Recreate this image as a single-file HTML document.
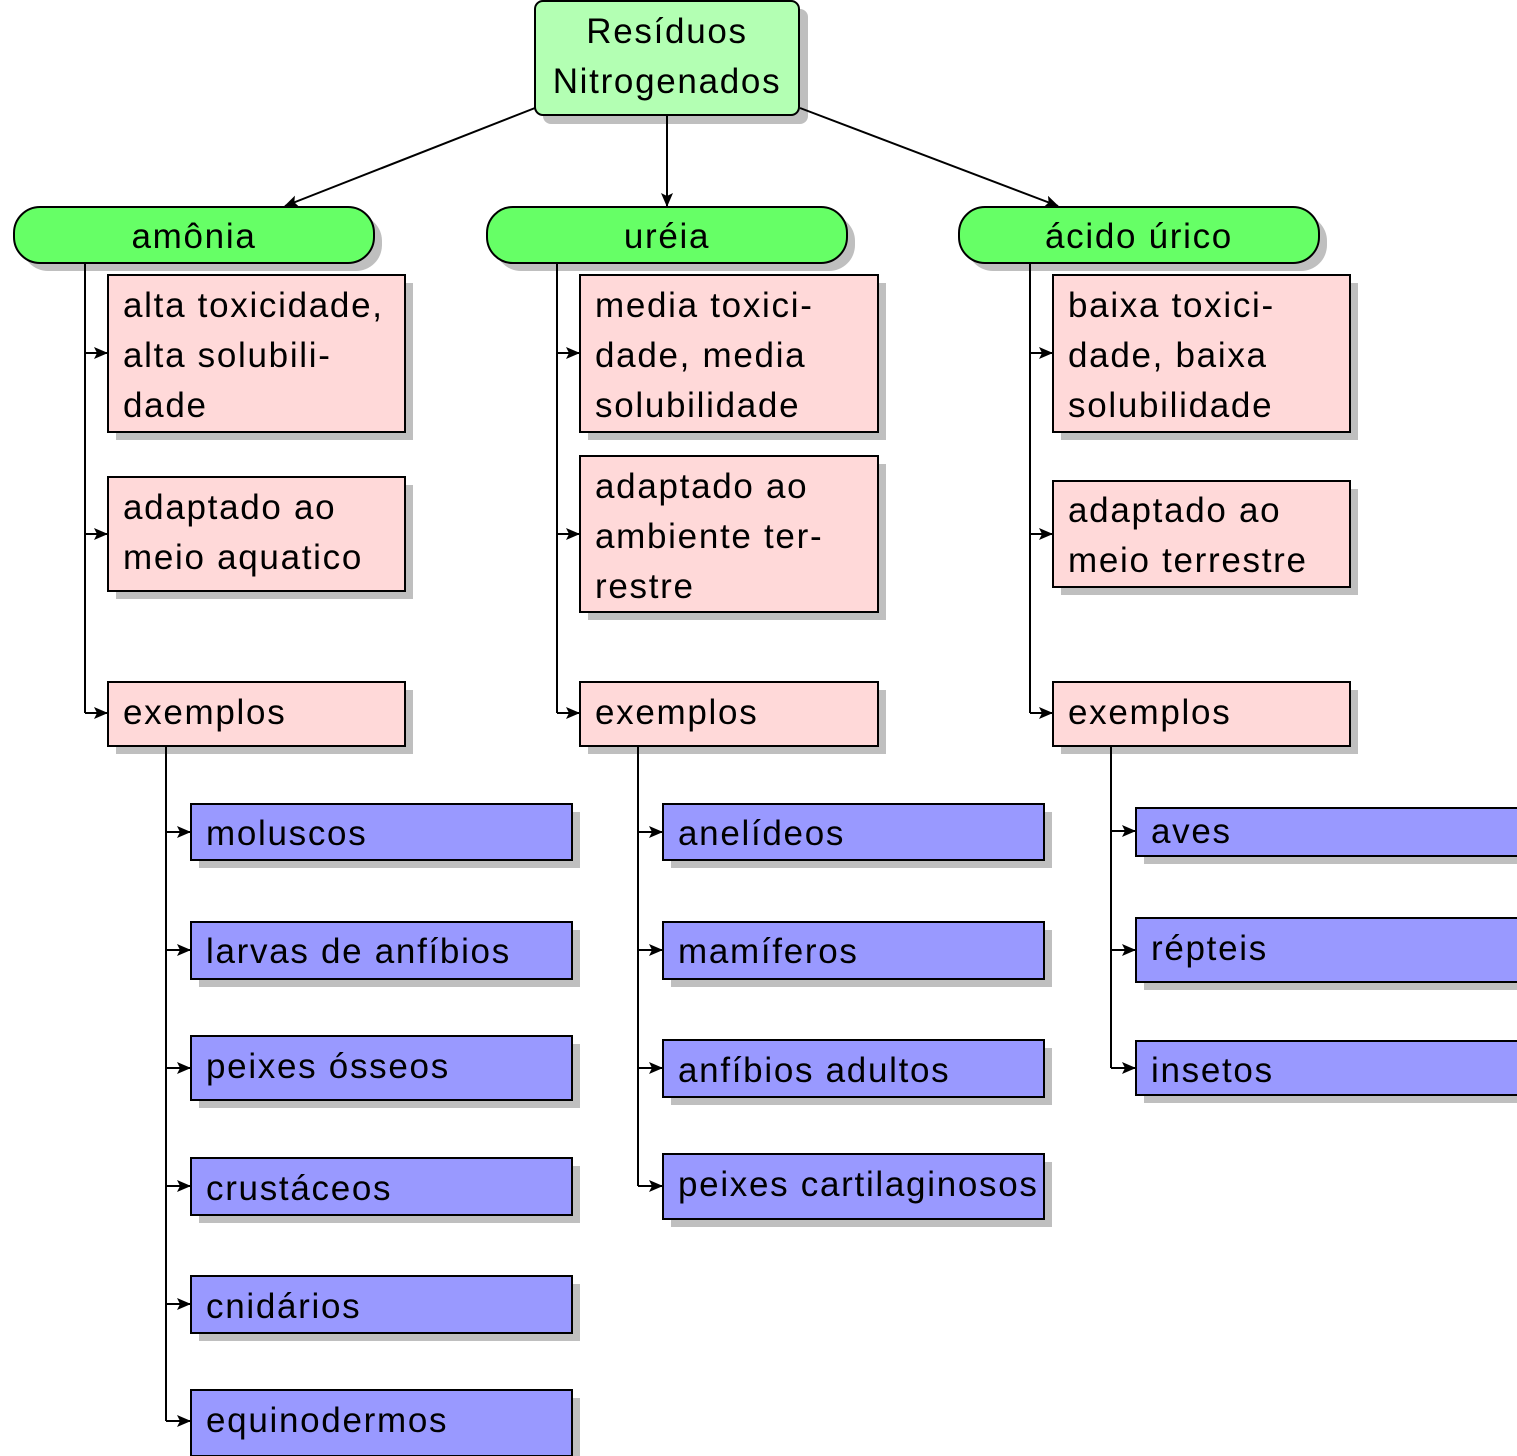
<!DOCTYPE html>
<html><head><meta charset="utf-8"><style>
html,body{margin:0;padding:0;background:#fff}
svg{display:block}
text{font-family:"Liberation Sans","DejaVu Sans",sans-serif;font-size:35px;letter-spacing:1.7px;fill:#000}
.sh{fill:#bfbfbf}
.r{stroke:#000;stroke-width:2}
.pk{fill:#ffd9d9}
.bl{fill:#9999ff}
.ln{stroke:#000;stroke-width:2;fill:none}
</style></head><body>
<svg width="1517" height="1456" viewBox="0 0 1517 1456" xmlns="http://www.w3.org/2000/svg">
<defs>
<marker id="a" markerWidth="14" markerHeight="12" refX="13" refY="6" orient="auto" markerUnits="userSpaceOnUse">
<path d="M0,0 L14,6 L0,12 L3,6 z" fill="#000"/></marker>
</defs>

<rect class="sh" x="543" y="9" width="265" height="115" rx="8"/>
<rect class="r" x="535" y="1" width="264" height="114" rx="8" fill="#b3ffb3"/>
<text x="667" y="43" text-anchor="middle">Resíduos</text>
<text x="667" y="93" text-anchor="middle">Nitrogenados</text>

<line class="ln" x1="535" y1="108" x2="285" y2="206" marker-end="url(#a)"/>
<line class="ln" x1="667" y1="116" x2="667" y2="206" marker-end="url(#a)"/>
<line class="ln" x1="800" y1="108" x2="1058" y2="206" marker-end="url(#a)"/>

<rect class="sh" x="22" y="215" width="360" height="56" rx="26"/>
<rect class="r" x="14" y="207" width="360" height="56" rx="26" fill="#66ff66"/>
<text x="194" y="248" text-anchor="middle">amônia</text>
<rect class="sh" x="495" y="215" width="360" height="56" rx="26"/>
<rect class="r" x="487" y="207" width="360" height="56" rx="26" fill="#66ff66"/>
<text x="667" y="248" text-anchor="middle">uréia</text>
<rect class="sh" x="967" y="215" width="360" height="56" rx="26"/>
<rect class="r" x="959" y="207" width="360" height="56" rx="26" fill="#66ff66"/>
<text x="1139" y="248" text-anchor="middle">ácido úrico</text>

<path class="ln" d="M85,264 V713"/>
<line class="ln" x1="85" y1="353" x2="107" y2="353" marker-end="url(#a)"/>
<line class="ln" x1="85" y1="534" x2="107" y2="534" marker-end="url(#a)"/>
<line class="ln" x1="85" y1="713" x2="107" y2="713" marker-end="url(#a)"/>
<path class="ln" d="M557,264 V713"/>
<line class="ln" x1="557" y1="353" x2="579" y2="353" marker-end="url(#a)"/>
<line class="ln" x1="557" y1="534" x2="579" y2="534" marker-end="url(#a)"/>
<line class="ln" x1="557" y1="713" x2="579" y2="713" marker-end="url(#a)"/>
<path class="ln" d="M1030,264 V713"/>
<line class="ln" x1="1030" y1="353" x2="1052" y2="353" marker-end="url(#a)"/>
<line class="ln" x1="1030" y1="534" x2="1052" y2="534" marker-end="url(#a)"/>
<line class="ln" x1="1030" y1="713" x2="1052" y2="713" marker-end="url(#a)"/>

<rect class="sh" x="116" y="283" width="297" height="157"/>
<rect class="r pk" x="108" y="275" width="297" height="157"/>
<text x="123" y="317">alta toxicidade,</text><text x="123" y="367">alta solubili-</text><text x="123" y="417">dade</text>
<rect class="sh" x="116" y="485" width="297" height="114"/>
<rect class="r pk" x="108" y="477" width="297" height="114"/>
<text x="123" y="519">adaptado ao</text><text x="123" y="569">meio aquatico</text>
<rect class="sh" x="116" y="690" width="297" height="64"/>
<rect class="r pk" x="108" y="682" width="297" height="64"/>
<text x="123" y="724">exemplos</text>

<rect class="sh" x="588" y="283" width="298" height="157"/>
<rect class="r pk" x="580" y="275" width="298" height="157"/>
<text x="595" y="317">media toxici-</text><text x="595" y="367">dade, media</text><text x="595" y="417">solubilidade</text>
<rect class="sh" x="588" y="464" width="298" height="156"/>
<rect class="r pk" x="580" y="456" width="298" height="156"/>
<text x="595" y="498">adaptado ao</text><text x="595" y="548">ambiente ter-</text><text x="595" y="598">restre</text>
<rect class="sh" x="588" y="690" width="298" height="64"/>
<rect class="r pk" x="580" y="682" width="298" height="64"/>
<text x="595" y="724">exemplos</text>

<rect class="sh" x="1061" y="283" width="297" height="157"/>
<rect class="r pk" x="1053" y="275" width="297" height="157"/>
<text x="1068" y="317">baixa toxici-</text><text x="1068" y="367">dade, baixa</text><text x="1068" y="417">solubilidade</text>
<rect class="sh" x="1061" y="489" width="297" height="106"/>
<rect class="r pk" x="1053" y="481" width="297" height="106"/>
<text x="1068" y="522">adaptado ao</text><text x="1068" y="572">meio terrestre</text>
<rect class="sh" x="1061" y="690" width="297" height="64"/>
<rect class="r pk" x="1053" y="682" width="297" height="64"/>
<text x="1068" y="724">exemplos</text>

<path class="ln" d="M166,746 V1421"/>
<line class="ln" x1="166" y1="832" x2="190" y2="832" marker-end="url(#a)"/>
<line class="ln" x1="166" y1="950" x2="190" y2="950" marker-end="url(#a)"/>
<line class="ln" x1="166" y1="1068" x2="190" y2="1068" marker-end="url(#a)"/>
<line class="ln" x1="166" y1="1186" x2="190" y2="1186" marker-end="url(#a)"/>
<line class="ln" x1="166" y1="1304" x2="190" y2="1304" marker-end="url(#a)"/>
<line class="ln" x1="166" y1="1421" x2="190" y2="1421" marker-end="url(#a)"/>
<path class="ln" d="M638,746 V1186"/>
<line class="ln" x1="638" y1="832" x2="662" y2="832" marker-end="url(#a)"/>
<line class="ln" x1="638" y1="950" x2="662" y2="950" marker-end="url(#a)"/>
<line class="ln" x1="638" y1="1068" x2="662" y2="1068" marker-end="url(#a)"/>
<line class="ln" x1="638" y1="1186" x2="662" y2="1186" marker-end="url(#a)"/>
<path class="ln" d="M1111,746 V1068"/>
<line class="ln" x1="1111" y1="831" x2="1135" y2="831" marker-end="url(#a)"/>
<line class="ln" x1="1111" y1="950" x2="1135" y2="950" marker-end="url(#a)"/>
<line class="ln" x1="1111" y1="1068" x2="1135" y2="1068" marker-end="url(#a)"/>

<rect class="sh" x="199" y="812" width="381" height="56"/><rect class="r bl" x="191" y="804" width="381" height="56"/><text x="206" y="845">moluscos</text>
<rect class="sh" x="199" y="930" width="381" height="57"/><rect class="r bl" x="191" y="922" width="381" height="57"/><text x="206" y="963">larvas de anfíbios</text>
<rect class="sh" x="199" y="1044" width="381" height="64"/><rect class="r bl" x="191" y="1036" width="381" height="64"/><text x="206" y="1078">peixes ósseos</text>
<rect class="sh" x="199" y="1166" width="381" height="57"/><rect class="r bl" x="191" y="1158" width="381" height="57"/><text x="206" y="1200">crustáceos</text>
<rect class="sh" x="199" y="1284" width="381" height="57"/><rect class="r bl" x="191" y="1276" width="381" height="57"/><text x="206" y="1318">cnidários</text>
<rect class="sh" x="199" y="1398" width="381" height="66"/><rect class="r bl" x="191" y="1390" width="381" height="66"/><text x="206" y="1432">equinodermos</text>

<rect class="sh" x="671" y="812" width="381" height="56"/><rect class="r bl" x="663" y="804" width="381" height="56"/><text x="678" y="845">anelídeos</text>
<rect class="sh" x="671" y="930" width="381" height="57"/><rect class="r bl" x="663" y="922" width="381" height="57"/><text x="678" y="963">mamíferos</text>
<rect class="sh" x="671" y="1048" width="381" height="57"/><rect class="r bl" x="663" y="1040" width="381" height="57"/><text x="678" y="1082">anfíbios adultos</text>
<rect class="sh" x="671" y="1162" width="381" height="65"/><rect class="r bl" x="663" y="1154" width="381" height="65"/><text x="678" y="1196">peixes cartilaginosos</text>

<rect class="sh" x="1144" y="816" width="381" height="48"/><rect class="r bl" x="1136" y="808" width="385" height="48"/><text x="1151" y="843">aves</text>
<rect class="sh" x="1144" y="926" width="381" height="64"/><rect class="r bl" x="1136" y="918" width="385" height="64"/><text x="1151" y="960">répteis</text>
<rect class="sh" x="1144" y="1049" width="381" height="54"/><rect class="r bl" x="1136" y="1041" width="385" height="54"/><text x="1151" y="1082">insetos</text>
</svg>
</body></html>
